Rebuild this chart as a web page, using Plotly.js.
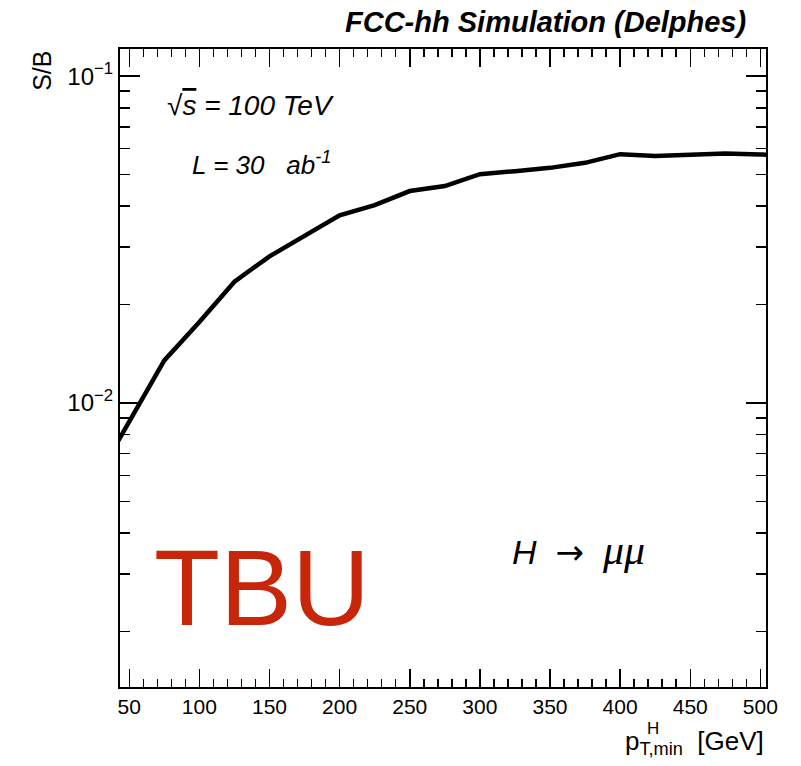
<!DOCTYPE html>
<html>
<head>
<meta charset="utf-8">
<script src="https://cdn.plot.ly/plotly-3.0.1.min.js"></script>
<style>html,body{margin:0;padding:0;background:#fff;}#plot{width:801px;height:766px;}</style>
</head>
<body>
<div id="plot"></div>
<script>
// Data
const ptMin = [25, 50, 75, 100, 125, 150, 175, 200, 225, 250, 275, 300, 325, 350, 375, 400, 425, 450, 475, 500, 525];
const sOverB = [0.0057, 0.00873, 0.0135, 0.0177, 0.0235, 0.0281, 0.0326, 0.0375, 0.0403, 0.0445, 0.0461, 0.0501, 0.0512, 0.0524, 0.0543, 0.0577, 0.0570, 0.0573, 0.0580, 0.0576, 0.0569];

const xMajorTicks = [50, 100, 150, 200, 250, 300, 350, 400, 450, 500];
const xMinorTicks = [];
for (let v = 50; v <= 500; v += 10) xMinorTicks.push(v);
const yMajorTicks = [0.01, 0.1];
const yMajorLabels = ['10<sup>\u22122</sup>', '10<sup>\u22121</sup>'];
const yMinorTicks = [0.002, 0.003, 0.004, 0.005, 0.006, 0.007, 0.008, 0.009,
                     0.02, 0.03, 0.04, 0.05, 0.06, 0.07, 0.08, 0.09];

const F = 'Liberation Sans, Arial, Helvetica, sans-serif';

const trace = {
  x: ptMin, y: sOverB, type: 'scatter', mode: 'lines',
  line: {color: '#000', width: 4.5}, cliponaxis: true, hoverinfo: 'skip'
};

const layout = {
  width: 801, height: 766,
  margin: {l: 120, r: 35, t: 49, b: 79},
  paper_bgcolor: '#fff', plot_bgcolor: '#fff',
  showlegend: false,
  font: {family: F, color: '#000'},
  xaxis: {
    range: [43.4, 504],
    tickmode: 'array', tickvals: xMajorTicks,
    ticks: 'inside', ticklen: 18, tickwidth: 1.5, tickcolor: '#000',
    minor: {tickmode: 'array', tickvals: xMinorTicks, ticks: 'inside', ticklen: 8, tickwidth: 1.5, tickcolor: '#000'},
    showline: true, linewidth: 2, linecolor: '#000', mirror: 'ticks',
    showgrid: false, zeroline: false,
    tickfont: {family: F, size: 21, color: '#000'}
  },
  yaxis: {
    type: 'log', range: [-2.869, -0.917],
    tickmode: 'array', tickvals: yMajorTicks, ticktext: yMajorLabels,
    ticks: 'inside', ticklen: 20, tickwidth: 1.5, tickcolor: '#000',
    minor: {tickmode: 'array', tickvals: yMinorTicks, ticks: 'inside', ticklen: 10, tickwidth: 1.5, tickcolor: '#000'},
    showline: true, linewidth: 2, linecolor: '#000', mirror: 'ticks',
    showgrid: false, zeroline: false,
    tickfont: {family: F, size: 24, color: '#000'}
  },
  annotations: [
    {text: '<b><i>FCC-hh Simulation (Delphes)</i></b>', xref: 'paper', yref: 'paper',
     x: 0.9726, y: 1.0423, xanchor: 'right', yanchor: 'middle', showarrow: false,
     font: {family: F, size: 29, color: '#000'}},
    {text: 'S/B', xref: 'paper', yref: 'paper', x: -0.121, y: 1.0, xanchor: 'center', yanchor: 'top',
     textangle: -90, showarrow: false, font: {family: F, size: 25, color: '#000'}},
    {text: 'p<sub>T,min</sub>  [GeV]', xref: 'paper', yref: 'paper', x: 1.0, y: -0.0868,
     xanchor: 'right', yanchor: 'middle', showarrow: false, font: {family: F, size: 26, color: '#000'}},
    {text: 'H', xref: 'paper', yref: 'paper', x: 0.812, y: -0.0648,
     xanchor: 'left', yanchor: 'middle', showarrow: false, font: {family: F, size: 17, color: '#000'}},
    {text: '<i>\u221A<span style="text-decoration:overline">s</span> = 100 TeV</i>', xref: 'paper', yref: 'paper', x: 0.0697, y: 0.912,
     xanchor: 'left', yanchor: 'middle', showarrow: false, font: {family: F, size: 28, color: '#000'}},
    {text: '<i>L = 30   ab<sup>-1</sup></i>', xref: 'paper', yref: 'paper', x: 0.1084, y: 0.8212,
     xanchor: 'left', yanchor: 'middle', showarrow: false, font: {family: F, size: 26, color: '#000'}},
    {text: '<i>H</i>  <span style="font-family:DejaVu Sans">\u2192</span>  <span style="font-family:Liberation Serif;font-size:42px"><i>\u03BC\u03BC</i></span>', xref: 'paper', yref: 'paper', x: 0.604, y: 0.2144,
     xanchor: 'left', yanchor: 'middle', showarrow: false, font: {family: F, size: 34, color: '#000'}},
    {text: 'TBU', xref: 'paper', yref: 'paper', x: 0.0496, y: 0.1563,
     xanchor: 'left', yanchor: 'middle', showarrow: false, font: {family: F, size: 108, color: '#c8260a'}}
  ]
};

Plotly.newPlot('plot', [trace], layout, {displayModeBar: false, staticPlot: true});
</script>
</body>
</html>
